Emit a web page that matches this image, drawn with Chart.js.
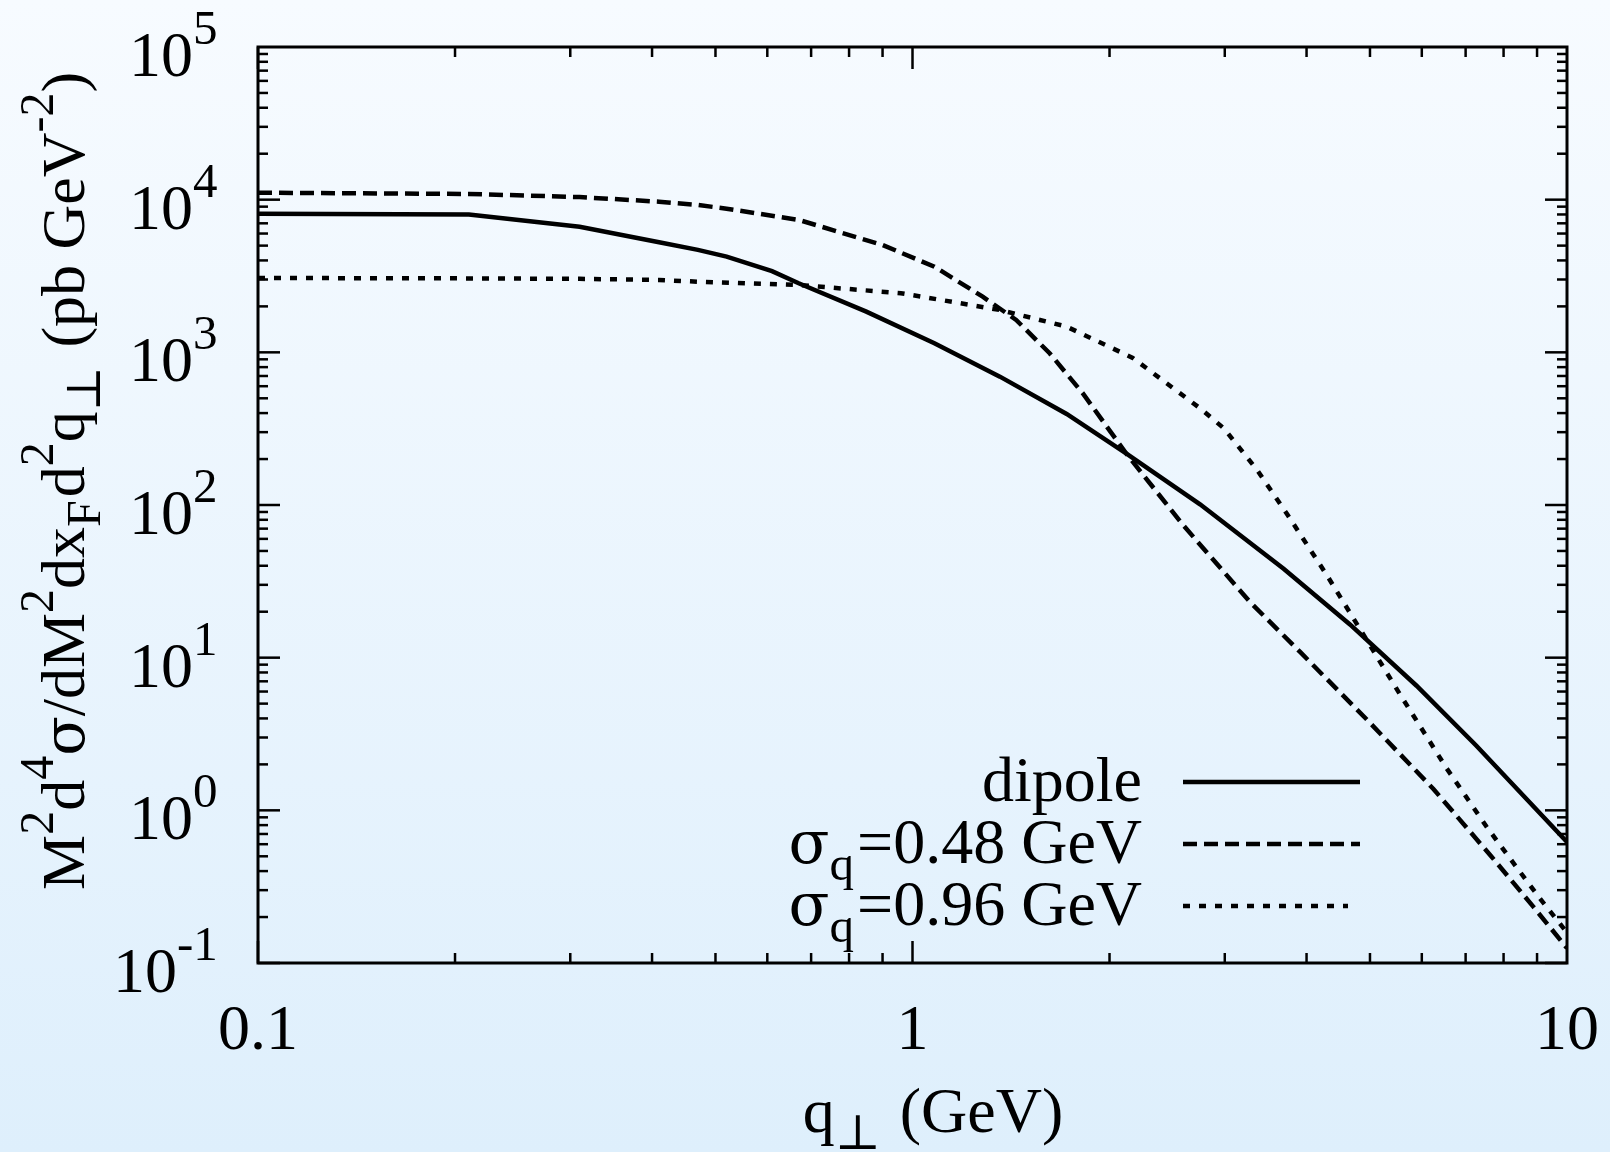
<!DOCTYPE html>
<html>
<head>
<meta charset="utf-8">
<title>q-perp distribution</title>
<script src="https://cdn.jsdelivr.net/npm/chart.js@4.4.1/dist/chart.umd.min.js"></script>
<style>
  html, body { margin: 0; padding: 0; background: #eaf5fd; }
  canvas { display: block; }
</style>
</head>
<body>
<canvas id="chart" width="1610" height="1152"></canvas>
<script>
// values (q_perp in GeV, cross section in pb GeV^-2)
const qDipole = [0.1, 0.21, 0.31, 0.41, 0.47, 0.52, 0.61, 0.67, 0.85, 1.08, 1.36, 1.72, 2.12, 2.75, 3.69, 4.66, 5.89, 7.27, 10];
const dipole = [8100, 8000, 6640, 5260, 4690, 4240, 3400, 2835, 1848, 1147, 693, 395, 218, 101, 38.2, 16.5, 6.55, 2.65, 0.62];

const qNarrow = [0.1, 0.21, 0.31, 0.41, 0.47, 0.52, 0.67, 0.9, 1.08, 1.28, 1.44, 1.62, 1.82, 2.12, 2.59, 3.28, 3.91, 4.94, 6.25, 7.63, 8.88, 10];
const narrow = [11100, 10900, 10400, 9700, 9230, 8730, 7370, 5050, 3640, 2315, 1630, 986, 540, 218, 74, 23.1, 10.9, 3.95, 1.38, 0.51, 0.234, 0.125];

const qWide = [0.1, 0.21, 0.31, 0.41, 0.47, 0.67, 0.96, 1.36, 1.72, 2.17, 2.75, 2.99, 3.36, 3.73, 4.3, 4.72, 5.56, 6.55, 7.54, 8.48, 9.09, 10];
const wide = [3070, 3050, 3030, 2980, 2900, 2760, 2440, 1895, 1473, 920, 430, 318, 170, 88, 34.5, 18.0, 5.73, 1.88, 0.778, 0.394, 0.265, 0.158];

const xTickValues = [0.1, 1, 10];
const xTickLabels = ['0.1', '1', '10'];
const yTickExps = ['-1', '0', '1', '2', '3', '4', '5'];

const seriesNames = [
    [{ t: 'dipole' }],
    [{ t: 'σ', greek: true }, { t: 'q', sub: true }, { t: '=0.48 GeV' }],
    [{ t: 'σ', greek: true }, { t: 'q', sub: true }, { t: '=0.96 GeV' }]
];

const SERIF = '"Liberation Serif", "DejaVu Serif", serif';
const BIG = '64px ' + SERIF;
const SMALL = '49px ' + SERIF;
const GREEK = '60px "DejaVu Serif", serif';

function toPoints(xs, ys) {
    return xs.map((x, i) => ({ x: x, y: ys[i] }));
}

function fontFor(p, k) {
    const s = k || 1;
    if (p.greek) return Math.round(60 * s) + 'px "DejaVu Serif", serif';
    return Math.round(((p.sup || p.sub) ? 49 : 64) * s) + 'px ' + SERIF;
}

function richWidth(ctx, parts, k) {
    let w = 0;
    parts.forEach(p => {
        ctx.font = fontFor(p, k);
        w += ctx.measureText(p.t).width + (p.sub ? 3 : 0);
    });
    return w;
}

function drawRich(ctx, parts, x, y, k) {
    const s = k || 1;
    let cx = x;
    parts.forEach(p => {
        ctx.font = fontFor(p, k);
        const dy = p.sup ? -32 * s : (p.sub ? 17 * s : 0);
        ctx.fillText(p.t, cx, y + dy);
        cx += ctx.measureText(p.t).width + (p.sub ? 3 : 0);
    });
}

function seg(ctx, x1, y1, x2, y2) {
    ctx.beginPath();
    ctx.moveTo(x1, y1);
    ctx.lineTo(x2, y2);
    ctx.stroke();
}

const paperPlugin = {
    id: 'paper',
    beforeDraw(chart) {
        const ctx = chart.ctx;
        const g = ctx.createLinearGradient(0, 0, 0, chart.height);
        g.addColorStop(0, '#f7fbff');
        g.addColorStop(1, '#deeffc');
        ctx.save();
        ctx.fillStyle = g;
        ctx.fillRect(0, 0, chart.width, chart.height);
        ctx.restore();
    },
    afterDraw(chart) {
        const ctx = chart.ctx;
        const a = chart.chartArea;
        const xs = chart.scales.x;
        const ys = chart.scales.y;
        ctx.save();
        ctx.strokeStyle = '#000';
        ctx.fillStyle = '#000';

        // frame
        ctx.lineWidth = 3;
        ctx.strokeRect(a.left, a.top, a.right - a.left, a.bottom - a.top);

        // inward ticks, mirrored on all four sides
        ctx.lineWidth = 2.5;
        for (let e = -1; e <= 4; e++) {
            for (let m = 1; m <= 9; m++) {
                const py = ys.getPixelForValue(m * Math.pow(10, e));
                const len = m === 1 ? 22 : 10;
                seg(ctx, a.left, py, a.left + len, py);
                seg(ctx, a.right, py, a.right - len, py);
            }
        }
        for (let e = -1; e <= 0; e++) {
            for (let m = 1; m <= 9; m++) {
                const px = xs.getPixelForValue(m * Math.pow(10, e));
                const len = m === 1 ? 22 : 10;
                seg(ctx, px, a.bottom, px, a.bottom - len);
                seg(ctx, px, a.top, px, a.top + len);
            }
        }

        // y tick labels 10^n
        ctx.textBaseline = 'alphabetic';
        ctx.textAlign = 'left';
        yTickExps.forEach(exp => {
            const py = ys.getPixelForValue(Math.pow(10, Number(exp)));
            ctx.font = BIG;
            const w10 = ctx.measureText('10').width;
            const right10 = a.left - 65 - 16 * (exp.length - 1);
            drawRich(ctx, [{ t: '10' }, { t: exp, sup: true }], right10 - w10, py + 29);
        });

        // x tick labels
        ctx.font = BIG;
        ctx.textAlign = 'center';
        xTickValues.forEach((v, i) => {
            ctx.fillText(xTickLabels[i], xs.getPixelForValue(v), 1049);
        });
        ctx.textAlign = 'left';

        // x axis title
        const xTitle = [{ t: 'q' }, { t: '⊥', sub: true }, { t: ' (GeV)' }];
        const xw = richWidth(ctx, xTitle);
        drawRich(ctx, xTitle, 933 - xw / 2, 1132);

        // y axis title, rotated
        const yTitle = [
            { t: 'M' }, { t: '2', sup: true }, { t: 'd' }, { t: '4', sup: true },
            { t: 'σ', greek: true }, { t: '/dM' }, { t: '2', sup: true }, { t: 'dx' }, { t: 'F', sub: true },
            { t: 'd' }, { t: '2', sup: true }, { t: 'q' }, { t: '⊥', sub: true },
            { t: ' (pb GeV' }, { t: '-2', sup: true }, { t: ')' }
        ];
        ctx.save();
        ctx.translate(84, 890);
        ctx.rotate(-Math.PI / 2);
        drawRich(ctx, yTitle, 0, 0, 0.97);
        ctx.restore();

        // key, inside the plot at lower right
        const rows = [782, 844, 906];
        const ends = [1360, 1360, 1348];
        chart.data.datasets.forEach((ds, i) => {
            const parts = seriesNames[i];
            const w = richWidth(ctx, parts);
            drawRich(ctx, parts, 1142 - w, rows[i] + 19);
            ctx.save();
            ctx.lineWidth = ds.borderWidth;
            ctx.setLineDash(ds.borderDash || []);
            ctx.lineCap = 'butt';
            seg(ctx, 1183, rows[i], ends[i], rows[i]);
            ctx.restore();
        });

        ctx.restore();
    }
};

new Chart(document.getElementById('chart'), {
    type: 'line',
    data: {
        datasets: [
            {
                label: 'dipole',
                data: toPoints(qDipole, dipole),
                borderColor: '#000',
                borderWidth: 4.5,
                pointRadius: 0,
                tension: 0,
                fill: false
            },
            {
                label: 'sigma_q=0.48 GeV',
                data: toPoints(qNarrow, narrow),
                borderColor: '#000',
                borderWidth: 4.5,
                borderDash: [14, 7],
                pointRadius: 0,
                tension: 0,
                fill: false
            },
            {
                label: 'sigma_q=0.96 GeV',
                data: toPoints(qWide, wide),
                borderColor: '#000',
                borderWidth: 4.5,
                borderDash: [7, 9],
                pointRadius: 0,
                tension: 0,
                fill: false
            }
        ]
    },
    options: {
        responsive: false,
        animation: false,
        layout: { padding: { left: 258, right: 43, top: 47, bottom: 189 } },
        plugins: {
            legend: { display: false },
            tooltip: { enabled: false }
        },
        scales: {
            x: {
                type: 'logarithmic',
                min: 0.1,
                max: 10,
                ticks: { display: false },
                grid: { display: false },
                border: { display: false },
                afterFit(s) { s.height = 0; }
            },
            y: {
                type: 'logarithmic',
                min: 0.1,
                max: 1e5,
                ticks: { display: false },
                grid: { display: false },
                border: { display: false },
                afterFit(s) { s.width = 0; }
            }
        }
    },
    plugins: [paperPlugin]
});
</script>
</body>
</html>
